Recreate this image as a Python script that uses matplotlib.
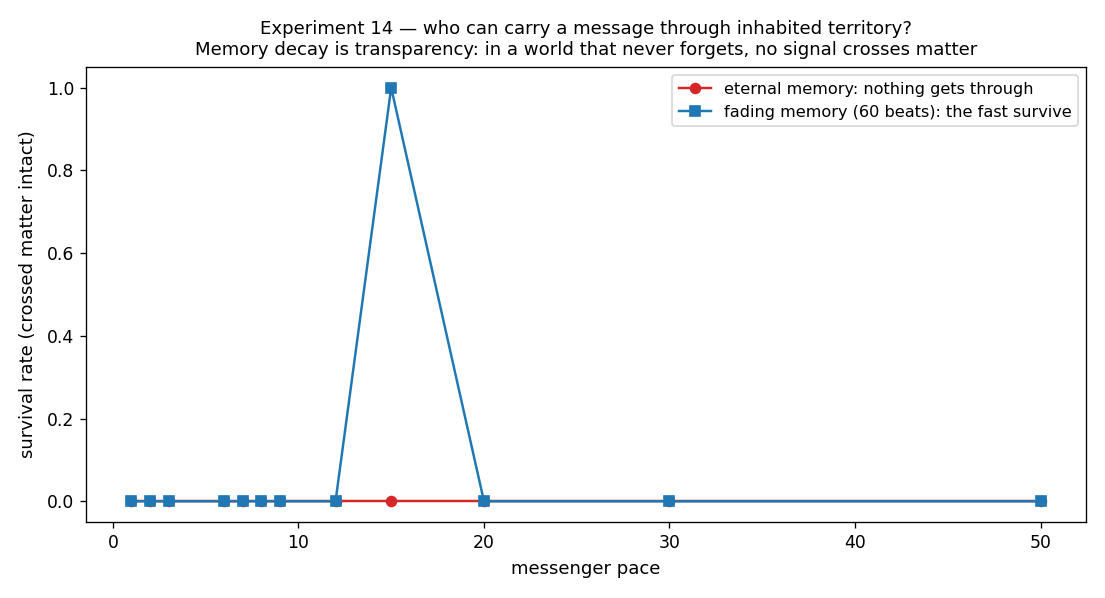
import matplotlib
matplotlib.use("Agg")
import matplotlib.pyplot as plt

pace = [1, 2, 3, 6, 7, 8, 9, 12, 15, 20, 30, 50]
eternal = [0, 0, 0, 0, 0, 0, 0, 0, 0, 0, 0, 0]
fading = [0, 0, 0, 0, 0, 0, 0, 0, 1.0, 0, 0, 0]

DPI = 118.5
fig, ax = plt.subplots(figsize=(1105 / DPI, 598 / DPI), dpi=DPI)
ax.plot(pace, eternal, marker="o", color="#d62728", label="eternal memory: nothing gets through")
ax.plot(pace, fading, marker="s", color="#1f77b4", label="fading memory (60 beats): the fast survive")
ax.set_xlabel("messenger pace", fontsize=11, labelpad=5)
ax.set_ylabel("survival rate (crossed matter intact)", fontsize=11, labelpad=6)
ax.set_title("Experiment 14 — who can carry a message through inhabited territory?\n"
             "Memory decay is transparency: in a world that never forgets, no signal crosses matter",
             fontsize=11, pad=7.2)
ax.tick_params(labelsize=10.5)
ax.legend(loc="upper right", fontsize=9.8)
fig.subplots_adjust(left=86 / 1105, right=1086 / 1105, top=1 - 67 / 598, bottom=1 - 522 / 598)
fig.savefig("out.png", dpi=DPI)
